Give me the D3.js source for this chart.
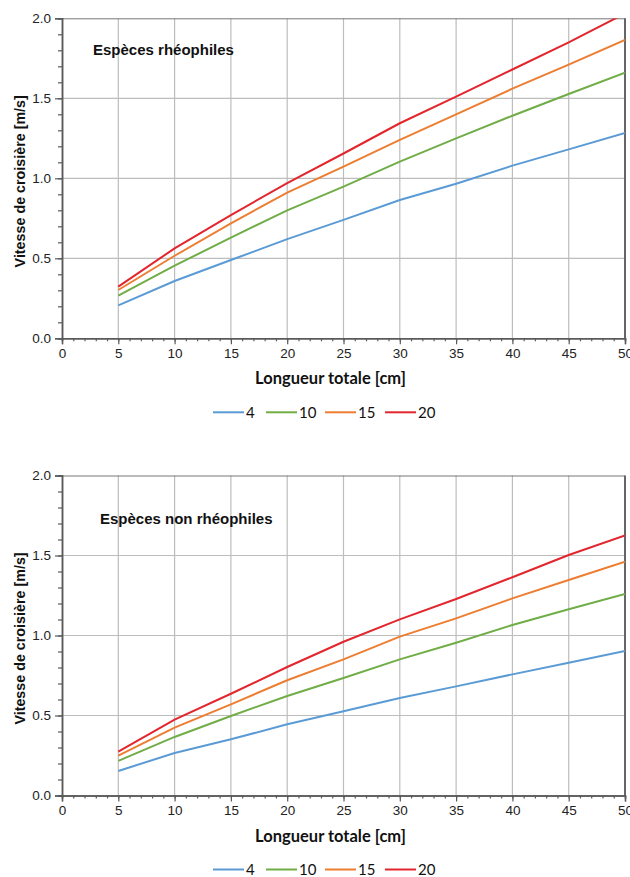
<!DOCTYPE html>
<html>
<head>
<meta charset="utf-8">
<script src="https://cdn.jsdelivr.net/npm/d3@7"></script>
<style>
  body{margin:0;background:#fff;}
  svg{display:block;}
</style>
</head>
<body>
<div id="chart"></div>
<script>
// longueur totale [cm]
let lengths=[5,10,15,20,25,30,35,40,45,50];
let seriesNames=["4","10","15","20"];
let seriesColors=["#5b9bd5","#70ad47","#ed7d31","#e3262d"];

// espèces rhéophiles
let rheo4=[0.206,0.358,0.489,0.620,0.740,0.864,0.966,1.079,1.181,1.283];
let rheo10=[0.266,0.454,0.629,0.800,0.948,1.104,1.250,1.391,1.527,1.660];
let rheo15=[0.302,0.516,0.719,0.910,1.073,1.240,1.400,1.560,1.710,1.865];
let rheo20=[0.323,0.562,0.770,0.970,1.155,1.344,1.510,1.680,1.850,2.030];

// espèces non rhéophiles
let nonRheo4=[0.153,0.266,0.351,0.445,0.526,0.609,0.682,0.757,0.830,0.903];
let nonRheo10=[0.216,0.366,0.497,0.622,0.734,0.851,0.955,1.066,1.164,1.259];
let nonRheo15=[0.249,0.424,0.570,0.720,0.851,0.993,1.107,1.232,1.347,1.461];
let nonRheo20=[0.274,0.474,0.636,0.803,0.961,1.101,1.228,1.364,1.503,1.626];

let xTicks=[0,5,10,15,20,25,30,35,40,45,50];
let yTicks=[0,0.5,1.0,1.5,2.0];

let W=630,H=877;
let svg=d3.select("#chart").append("svg").attr("width",W).attr("height",H);

function drawPanel(top,title,titlePos,values,idx){
    let margin={left:62,top:top};
    let width=563,height=320;
    let g=svg.append("g").attr("transform","translate("+margin.left+","+margin.top+")");
    let x=d3.scaleLinear().domain([0,50]).range([0,width]);
    let y=d3.scaleLinear().domain([0,2]).range([height,0]);
    //grid
    g.append("g").selectAll("line").data(xTicks.filter(function(d){return d>0 && d<50}))
        .enter().append("line")
        .attr("x1",function(d){return x(d)}).attr("x2",function(d){return x(d)})
        .attr("y1",0).attr("y2",height)
        .attr("stroke","#bdbdbd").attr("stroke-width",1.2);
    g.append("g").selectAll("line").data(yTicks.filter(function(d){return d>0 && d<2}))
        .enter().append("line")
        .attr("y1",function(d){return y(d)}).attr("y2",function(d){return y(d)})
        .attr("x1",0).attr("x2",width)
        .attr("stroke","#bdbdbd").attr("stroke-width",1.2);
    //frame top/right
    g.append("line").attr("x1",0).attr("x2",width).attr("y1",0.5).attr("y2",0.5)
        .attr("stroke","#777").attr("stroke-width",1);
    g.append("line").attr("x1",width).attr("x2",width).attr("y1",0).attr("y2",height)
        .attr("stroke","#666").attr("stroke-width",2);
    //clip
    let clipId="clip"+idx;
    g.append("clipPath").attr("id",clipId).append("rect")
        .attr("x",0).attr("y",0).attr("width",width).attr("height",height);
    let line=d3.line()
        .x(function(d,i){return x(lengths[i])})
        .y(function(d){return y(d)});
    values.forEach(function(vals,k){
        g.append("path")
            .datum(vals)
            .attr("clip-path","url(#"+clipId+")")
            .attr("fill","none")
            .attr("stroke",seriesColors[k])
            .attr("stroke-width",2)
            .attr("d",line);
    });
    //axes
    let xMinor=g.append("g").attr("transform","translate(0,"+height+")")
        .call(d3.axisBottom(x).tickValues(d3.range(0,51,1)).tickSize(3).tickFormat(""));
    let xAxis=g.append("g").attr("transform","translate(0,"+height+")")
        .call(d3.axisBottom(x).tickValues(xTicks).tickSize(6).tickPadding(4).tickFormat(d3.format("d")));
    let yMinor=g.append("g")
        .call(d3.axisLeft(y).tickValues(d3.range(0,2.01,0.1)).tickSize(4).tickFormat(""));
    let yAxis=g.append("g")
        .call(d3.axisLeft(y).tickValues(yTicks).tickSize(7).tickPadding(4).tickFormat(d3.format(".1f")));
    [xMinor,xAxis,yMinor,yAxis].forEach(function(a){
        a.select(".domain").attr("stroke","#5a5a5a").attr("stroke-width",1.5);
        a.selectAll(".tick line").attr("stroke","#5a5a5a").attr("stroke-width",1.2);
        a.selectAll("text").attr("fill","#222").style("font-family","'Liberation Sans',Arial,sans-serif").style("font-size","13.5px");
    });
    //title in plot
    g.append("text")
        .attr("x",titlePos[0]).attr("y",titlePos[1])
        .style("font-family","'Liberation Sans',Arial,sans-serif")
        .style("font-weight","bold").style("font-size","15px")
        .attr("fill","#111")
        .text(title);
    //axis titles
    g.append("text")
        .attr("x",(253+408)/2-margin.left).attr("y",height+46)
        .attr("text-anchor","middle")
        .style("font-family","Lato,sans-serif").style("font-weight","bold").style("font-size","16.5px")
        .attr("fill","#111")
        .text("Longueur totale [cm]");
    g.append("text")
        .attr("transform","translate("+(24.5-margin.left)+","+(height/2+3)+") rotate(-90)")
        .attr("text-anchor","middle")
        .style("font-family","'Liberation Sans',Arial,sans-serif").style("font-weight","bold").style("font-size","14.3px")
        .attr("fill","#111")
        .text("Vitesse de croisière [m/s]");
    //legend
    let legX=[213,266,325,385];
    let lg=g.append("g").attr("transform","translate("+(-margin.left)+","+(height+74)+")");
    seriesNames.forEach(function(n,k){
        lg.append("line").attr("x1",legX[k]).attr("x2",legX[k]+31).attr("y1",0).attr("y2",0)
            .attr("stroke",seriesColors[k]).attr("stroke-width",2);
        lg.append("text").attr("x",legX[k]+33).attr("y",5.5)
            .style("font-family","Lato,sans-serif").style("font-size","15px")
            .attr("fill","#111")
            .text(n);
    });
}

drawPanel(18.3,"Espèces rhéophiles",[31,37],[rheo4,rheo10,rheo15,rheo20],0);
drawPanel(475.5,"Espèces non rhéophiles",[38,48],[nonRheo4,nonRheo10,nonRheo15,nonRheo20],1);
</script>
</body>
</html>
